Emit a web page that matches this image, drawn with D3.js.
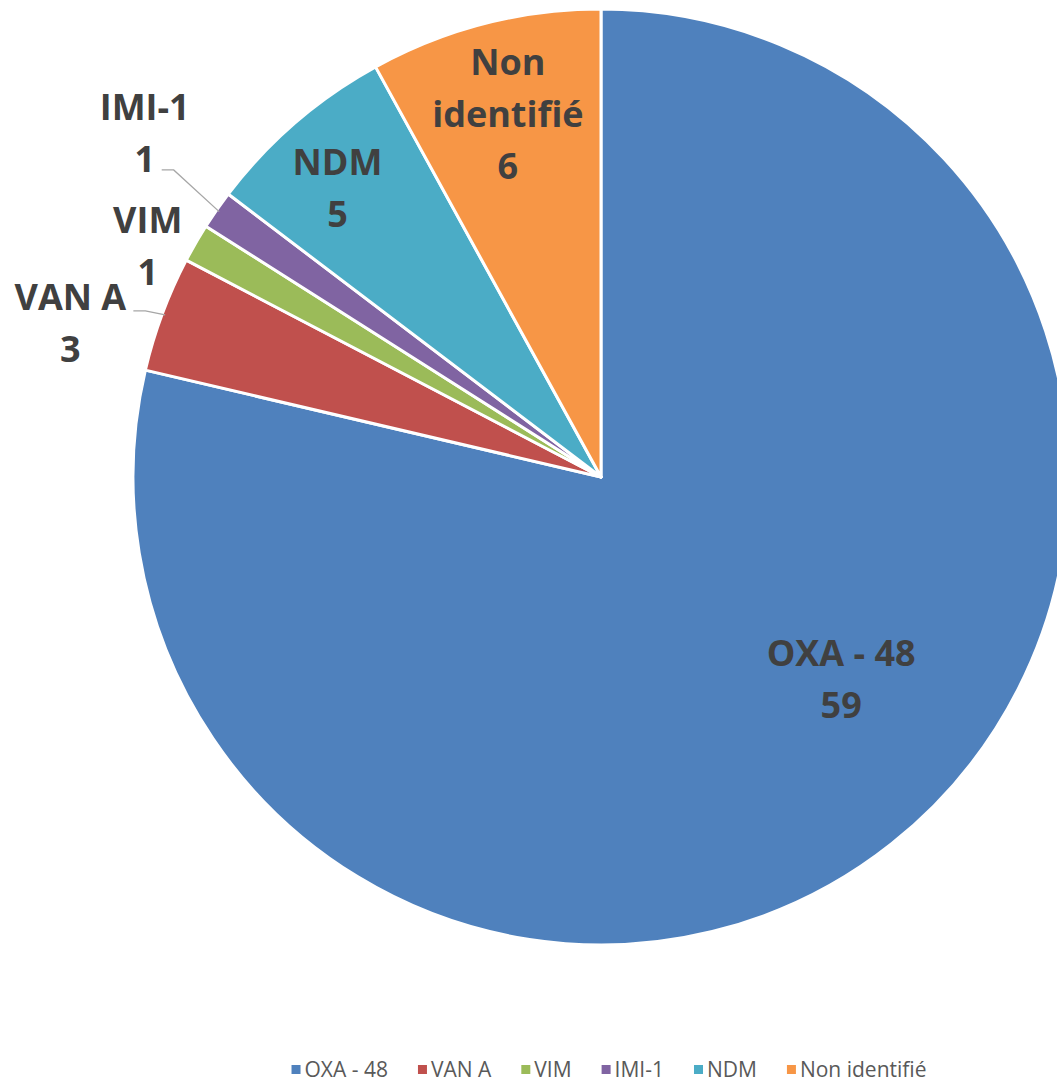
<!DOCTYPE html>
<html><head><meta charset="utf-8">
<script src="https://cdn.jsdelivr.net/npm/d3@7"></script>
<style>
html,body{margin:0;padding:0;background:#fff;}
svg{display:block;}
text{font-family:"Open Sans", Carlito, Calibri, Lato, sans-serif;}
</style></head>
<body>
<script>
const categories = ["OXA - 48", "VAN A", "VIM", "IMI-1", "NDM", "Non identifié"];
const values = [59, 3, 1, 1, 5, 6];
const colors = ["#4F81BD", "#C0504D", "#9BBB59", "#8064A2", "#4BACC6", "#F79646"];

const W = 1057, H = 1082;
const cx = 601, cy = 477, R = 468;

const svg = d3.select("body").append("svg").attr("width", W).attr("height", H);
const data = categories.map((c, i) => ({cat: c, value: values[i], color: colors[i]}));

const pie = d3.pie().value(d => d.value).sort(null);
const arcs = pie(data);
const arc = d3.arc().innerRadius(0).outerRadius(R);

const g = svg.append("g").attr("transform", `translate(${cx},${cy})`);
g.selectAll("path").data(arcs).join("path")
  .attr("d", arc).attr("fill", d => d.data.color)
  .attr("stroke", "#fff").attr("stroke-width", 3).attr("stroke-linejoin", "round");

// label placement rules: inside (radius fraction, angle override) or outside (offset from slice edge)
const labelRules = [
  {mode: "in", r: 0.67, angle: 130},
  {mode: "out", dx: -92, dy: 9, lead: true, ldx: 63, ldy: -12},
  {mode: "out", dx: -48, dy: 3, lead: false},
  {mode: "out", dx: -72, dy: -77, lead: true, ldx: 17, ldy: 37},
  {mode: "in", r: 0.835, angle: 317.6},
  {mode: "in", r: 0.80}
];
const lineH = 52, fs = 36;
function pt(angleRad, r) { return [r * Math.sin(angleRad), -r * Math.cos(angleRad)]; }

arcs.forEach((a, i) => {
  const rule = labelRules[i];
  const mid = (a.startAngle + a.endAngle) / 2;
  let lines = [a.data.cat, String(a.data.value)];
  if (a.data.cat === "Non identifié") lines = ["Non", "identifié", String(a.data.value)];
  let x, y;
  if (rule.mode === "in") {
    const ang = rule.angle !== undefined ? rule.angle * Math.PI / 180 : mid;
    [x, y] = pt(ang, R * rule.r);
  } else {
    const e = pt(mid, R);
    x = e[0] + rule.dx; y = e[1] + rule.dy;
    if (rule.lead) {
      const e2 = pt(mid, R - 3);
      const sx = x + rule.ldx, sy = y + rule.ldy;
      g.append("path")
        .attr("d", `M${sx},${sy}L${sx + 12},${sy}L${e2[0]},${e2[1]}`)
        .attr("fill", "none").attr("stroke", "#A6A6A6").attr("stroke-width", 1.3);
    }
  }
  const t = g.append("text").attr("text-anchor", "middle")
    .attr("font-size", fs).attr("font-weight", "bold").attr("fill", "#404040");
  const n = lines.length;
  lines.forEach((l, k) => {
    t.append("tspan").attr("x", x).attr("y", y + (k - (n - 1) / 2) * lineH + fs * 0.36).text(l);
  });
});

// legend
const legend = svg.append("g").attr("transform", `translate(0,1069)`);
const items = [];
data.forEach((d, i) => {
  const it = legend.append("g");
  it.append("rect").attr("x", 0).attr("y", -4).attr("width", 9).attr("height", 9).attr("fill", d.color);
  const tx = it.append("text").attr("x", 13).attr("y", 0).attr("dy", "0.36em")
    .attr("font-size", 21).attr("fill", "#595959").text(d.cat);
  items.push({g: it, w: 13 + tx.node().getComputedTextLength()});
});
const gap = 30;
const total = d3.sum(items, d => d.w) + gap * (items.length - 1);
let xpos = 609 - total / 2;
items.forEach(it => { it.g.attr("transform", `translate(${xpos},0)`); xpos += it.w + gap; });
</script>
</body></html>
